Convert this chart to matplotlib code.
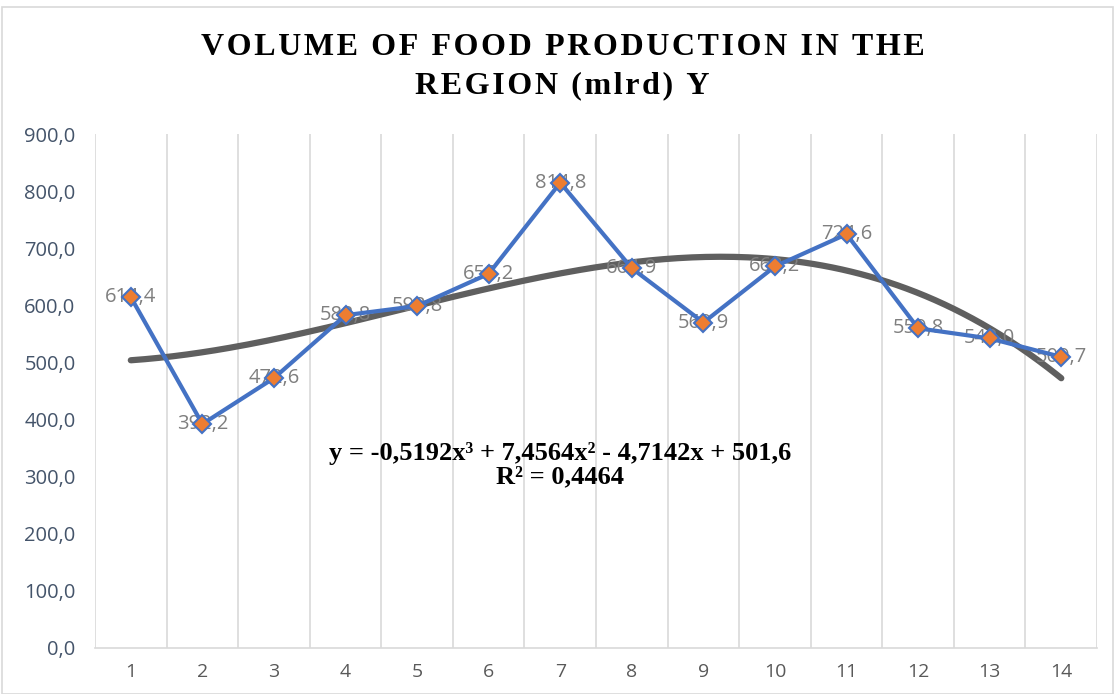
import matplotlib.pyplot as plt
import numpy as np
from matplotlib.patches import Rectangle

# data
periods = list(range(1, 15))
values = [614.4, 392.2, 472.6, 582.8, 598.8, 655.2, 814.8,
          664.9, 569.9, 668.2, 724.6, 559.8, 542.0, 509.7]
# cubic trend shown on the chart
trend_coef = [-0.5192, 7.4564, -4.7142, 501.6]
trend_text = "y = -0,5192x³ + 7,4564x² - 4,7142x + 501,6\nR² = 0,4464"
title_lines = ["VOLUME OF FOOD PRODUCTION IN THE", "REGION (mlrd) Y"]
y_ticks = [0, 100, 200, 300, 400, 500, 600, 700, 800, 900]


def spaced(s):
    # excel title has extra letter spacing
    return "\u200a".join(s)


fig = plt.figure(figsize=(11.14, 6.94), dpi=100)
fig.patches.append(Rectangle((0.002, 0.0), 0.997, 0.99, transform=fig.transFigure,
                             fill=False, edgecolor="#d9d9d9", lw=1.2))
ax = fig.add_axes([0.0853, 0.0663, 0.8995, 0.7406])

# trend line
xs = np.linspace(1, 14, 200)
ax.plot(xs, np.polyval(trend_coef, xs), color="#5f5f5f", lw=4.5,
        solid_capstyle="round", zorder=2)

# data labels (behind markers)
for x, v in zip(periods, values):
    ax.text(x, v, f"{v:.1f}".replace(".", ","), ha="center", va="center",
            fontsize=14.5, color="#7f7f7f", family="Open Sans", zorder=3)

ax.plot(periods, values, color="#4472c4", lw=3, marker="D", markersize=9,
        markerfacecolor="#ed7d31", markeredgecolor="#4472c4", markeredgewidth=1.5,
        zorder=4)

ax.text(7.0, 320, trend_text, ha="center", va="center", fontsize=19,
        fontweight="bold", family="Liberation Serif", linespacing=1.0, zorder=5)

ax.set_xlim(0.5, 14.5)
ax.set_ylim(0, 900)
ax.set_xticks(periods)
ax.set_xticks(np.arange(0.5, 15, 1), minor=True)
ax.set_yticks(y_ticks)
ax.set_yticklabels([f"{t:.1f}".replace(".", ",") for t in y_ticks])
ax.grid(which="minor", axis="x", color="#d9d9d9", lw=1.2)
ax.tick_params(which="both", length=0)
ax.tick_params(axis="y", labelsize=14.5, labelcolor="#44546a", pad=14)
ax.tick_params(axis="x", labelsize=14, labelcolor="#595959", pad=11)
for lab in ax.get_xticklabels() + ax.get_yticklabels():
    lab.set_family("Open Sans")
for s in ["top", "right", "left"]:
    ax.spines[s].set_visible(False)
ax.spines["bottom"].set_color("#d9d9d9")
ax.spines["bottom"].set_linewidth(1.2)

fig.text(0.505, 0.931, spaced(title_lines[0]), ha="center", va="center",
         fontsize=23, fontweight="bold", family="Liberation Serif")
fig.text(0.505, 0.876, spaced(title_lines[1]), ha="center", va="center",
         fontsize=23, fontweight="bold", family="Liberation Serif")

fig.savefig("out.png", dpi=100)
